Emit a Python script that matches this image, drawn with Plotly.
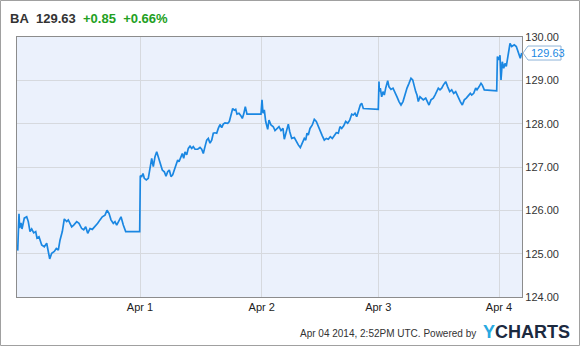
import plotly.graph_objects as go

# x positions: trading-time position units (Mar 31 open = 0), values in USD
pos = [0.7, 2.0, 2.7, 4.0, 5.0, 7.3, 9.7, 11.3, 13.0, 14.7, 16.7, 18.7, 20.0, 22.0, 24.7, 27.3,
       29.7, 31.3, 32.7, 34.7, 37.3, 39.3, 41.3, 43.0, 45.3, 47.3, 49.7, 51.3, 54.7, 56.7, 59.7,
       62.0, 64.7, 66.7, 68.7, 70.7, 73.0, 75.3, 78.0, 80.7, 83.0, 85.3, 88.0, 90.0, 92.0, 94.0,
       96.3, 98.0, 99.7, 102.0, 104.0, 106.3, 108.7, 122.7,
       123.3, 124.7, 126.0, 127.3, 129.3, 131.3, 133.0, 134.7, 136.3, 138.0, 139.7, 141.3, 143.3,
       145.3, 147.3, 149.0, 150.7, 152.3, 154.0, 155.7, 157.3, 159.3, 160.7, 162.0, 164.0, 165.3,
       166.7, 168.0, 169.7, 171.3, 173.0, 174.7, 176.3, 178.0, 180.7, 183.0, 184.7, 186.3, 188.0,
       189.7, 191.3, 193.0, 194.7, 196.3, 198.0, 199.7, 201.3, 203.0, 204.7, 206.3, 208.0, 210.7,
       212.3, 214.0, 215.7, 217.3, 218.7, 220.0, 222.0, 224.0, 225.3, 226.7, 228.3, 230.0, 244.0,
       245.0, 246.0, 247.3, 248.7, 250.7, 252.0, 254.0, 256.3, 258.0, 260.0, 262.0, 264.0, 266.0,
       267.3, 269.0, 271.3, 272.7, 274.7, 277.3, 279.3, 281.3, 283.3, 285.3, 287.3, 288.7, 290.0,
       291.3, 293.0, 295.3, 297.3, 299.3, 301.3, 303.3, 305.3, 307.3, 309.3, 311.3, 313.3, 315.3,
       317.3, 319.3, 321.3, 323.0, 324.7, 326.7, 328.7, 330.7, 332.7, 334.7, 336.3, 338.0, 339.7,
       341.3, 343.3, 344.7, 346.3, 361.3,
       362.0, 362.3, 363.3, 364.7, 366.0, 367.3, 368.7, 370.7, 372.0, 374.0, 376.0, 378.0, 380.0,
       382.0, 384.0, 386.0, 388.0, 390.0, 392.0, 394.0, 395.7, 397.3, 398.7, 400.0, 401.3, 403.0,
       404.7, 406.3, 408.7, 410.7, 412.0, 414.0, 416.3, 418.0, 419.7, 421.3, 423.0, 424.7, 426.3,
       428.7, 430.7, 432.7, 434.7, 436.7, 438.7, 440.7, 442.0, 443.3, 445.3, 447.3, 449.3, 451.3,
       453.3, 454.7, 456.7, 458.7, 460.0, 462.0, 464.0, 465.3, 467.3, 479.7,
       480.4, 482.0, 483.0, 484.0, 485.3, 486.7, 488.0, 489.3, 490.7, 492.0, 493.0, 494.7, 497.3,
       499.3, 501.3, 503.3, 504.7]

price = [125.07, 125.92, 125.59, 125.71, 125.57, 125.82, 125.85, 125.74, 125.51, 125.57, 125.48,
         125.51, 125.36, 125.39, 125.20, 125.16, 125.24, 125.08, 124.88, 125.01, 125.05, 125.12,
         125.08, 125.31, 125.51, 125.80, 125.74, 125.78, 125.62, 125.66, 125.74, 125.70, 125.58,
         125.55, 125.62, 125.47, 125.58, 125.56, 125.62, 125.70, 125.78, 125.85, 125.89, 126.00,
         125.93, 125.78, 125.70, 125.74, 125.66, 125.78, 125.85, 125.66, 125.51, 125.51,
         126.80, 126.78, 126.85, 126.74, 126.70, 126.74, 127.01, 127.20, 127.01, 127.24, 127.35,
         127.24, 127.09, 126.93, 126.89, 126.79, 126.89, 126.93, 126.78, 126.82, 126.93, 127.09,
         127.16, 127.12, 127.24, 127.31, 127.20, 127.35, 127.28, 127.43, 127.48, 127.43, 127.47,
         127.41, 127.41, 127.45, 127.41, 127.31, 127.47, 127.62, 127.66, 127.55, 127.62, 127.78,
         127.79, 127.78, 127.89, 127.98, 127.91, 127.99, 128.02, 128.01, 128.05, 128.24, 128.35,
         128.31, 128.33, 128.22, 128.24, 128.18, 128.12, 128.22, 128.39, 128.22, 128.22,
         128.55, 128.24, 128.32, 128.05, 127.87, 128.08, 127.97, 127.93, 127.84, 127.89, 127.93,
         127.84, 127.89, 127.64, 127.82, 127.99, 127.82, 127.66, 127.68, 127.58, 127.51, 127.45,
         127.58, 127.66, 127.62, 127.78, 127.74, 127.89, 127.97, 128.10, 128.05, 127.93, 127.82,
         127.72, 127.62, 127.66, 127.64, 127.70, 127.66, 127.74, 127.79, 127.78, 127.93, 127.89,
         127.95, 128.05, 128.01, 128.08, 128.22, 128.20, 128.24, 128.16, 128.28, 128.43, 128.47,
         128.35, 128.33,
         128.97, 128.74, 128.82, 128.62, 128.74, 128.66, 128.82, 128.99, 128.85, 128.79, 128.82,
         128.70, 128.62, 128.51, 128.43, 128.51, 128.70, 128.82, 128.93, 129.05, 129.01, 128.85,
         128.74, 128.66, 128.51, 128.62, 128.59, 128.55, 128.59, 128.51, 128.43, 128.55, 128.59,
         128.66, 128.74, 128.82, 128.78, 128.82, 128.89, 128.97, 128.85, 128.74, 128.78, 128.70,
         128.74, 128.62, 128.59, 128.51, 128.43, 128.55, 128.59, 128.66, 128.70, 128.66, 128.70,
         128.82, 128.78, 128.85, 128.93, 128.89, 128.78, 128.76,
         129.55, 129.47, 129.58, 129.01, 129.43, 129.28, 129.39, 129.32, 129.55, 129.74, 129.85,
         129.78, 129.82, 129.78, 129.62, 129.51, 129.63]

assert len(pos) == len(price), (len(pos), len(price))

tick_pos = [123.0, 244.7, 361.3, 482.0]
tick_text = ["Apr 1", "Apr 2", "Apr 3", "Apr 4"]
y_ticks = [124, 125, 126, 127, 128, 129, 130]
last_price = 129.63

L, R, T, B = 17, 58, 37, 49
W, H = 580, 346
PW, PH = W - L - R, H - T - B


def px(x):
    return (x - L) / PW


def py(y):
    return (H - B - y) / PH


line_color = "#1a87e2"

fig = go.Figure()
fig.add_trace(go.Scatter(x=pos, y=price, mode="lines",
                         line=dict(color=line_color, width=1.7), hoverinfo="skip"))

fig.update_layout(
    width=W, height=H,
    margin=dict(l=L, r=R, t=T, b=B, autoexpand=False),
    paper_bgcolor="white", plot_bgcolor="#ebf1fc",
    showlegend=False,
    font=dict(family="Liberation Sans, Arial, sans-serif", color="#333333", size=11),
    xaxis=dict(range=[0, 505], tickvals=tick_pos, ticktext=tick_text,
               showgrid=True, gridcolor="#d6d9de", gridwidth=1.2,
               showline=True, linecolor="#8c8c8c", linewidth=1.2, mirror=True,
               ticks="", tickfont=dict(size=11, color="#222222"), zeroline=False),
    yaxis=dict(range=[124, 130], tickvals=y_ticks,
               ticktext=[f"{v:.2f}" for v in y_ticks], side="right",
               showgrid=True, gridcolor="#d6d9de", gridwidth=1.2,
               showline=True, linecolor="#8c8c8c", linewidth=1.2, mirror=True,
               ticks="", tickfont=dict(size=11, color="#333333"), zeroline=False),
)

# title
fig.add_annotation(xref="paper", yref="paper", x=px(8), y=py(18), xanchor="left", yanchor="middle",
                   showarrow=False,
                   text="<b>BA</b>  <b>129.63</b>  <b><span style='color:#22a022'>+0.85</span></b>"
                        "  <b><span style='color:#22a022'>+0.66%</span></b>",
                   font=dict(size=13, color="#333333"))

# last price label with notch
yc = last_price
dy = 7 / PH * 6
x_tip, x0, x1 = px(523), px(528), px(561)
fig.add_shape(type="path", xref="paper", yref="y",
              path=f"M {x_tip} {yc} L {x0} {yc + dy} L {x1} {yc + dy} L {x1} {yc - dy} L {x0} {yc - dy} Z",
              line=dict(color="#8fb4d8", width=1), fillcolor="white", layer="above")
fig.add_annotation(xref="paper", yref="y", x=px(529), y=yc, xanchor="left", showarrow=False,
                   text="129.63", font=dict(size=11, color=line_color))

# footer
fig.add_annotation(xref="paper", yref="paper", x=px(478), y=py(333), xanchor="right", yanchor="middle",
                   showarrow=False, text="Apr 04 2014, 2:52PM UTC. Powered by",
                   font=dict(size=10, color="#333333"))
fig.add_annotation(xref="paper", yref="paper", x=px(481), y=py(332), xanchor="left", yanchor="middle",
                   showarrow=False,
                   text="<b><span style='color:#29a9e1'>Y</span>CHARTS</b>",
                   font=dict(size=18, color="#1c2a3f", family="Liberation Sans, Arial, sans-serif"))

# outer border
fig.add_shape(type="rect", xref="paper", yref="paper",
              x0=px(0.5), x1=px(579.5), y0=py(345.5), y1=py(0.5),
              line=dict(color="#a0a0a0", width=1), layer="below")

fig.write_html("out.html")
